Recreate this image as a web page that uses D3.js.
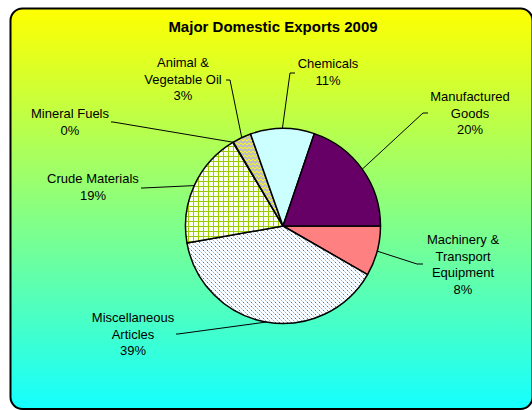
<!DOCTYPE html>
<html>
<head>
<meta charset="utf-8">
<script src="https://cdn.jsdelivr.net/npm/d3@7"></script>
<style>
  body { margin: 0; background: #fff; }
  svg { display: block; font-family: "Liberation Sans", Arial, sans-serif; }
  pattern rect { shape-rendering: crispEdges; }
</style>
</head>
<body>
<script>
// pie data, clockwise from 3 o'clock
var categories = ["Machinery & Transport Equipment", "Miscellaneous Articles", "Crude Materials",
	"Mineral Fuels", "Animal & Vegetable Oil", "Chemicals", "Manufactured Goods"];
var shares = [8.3, 38.9, 19.2, 0.1, 3.1, 10.6, 19.8];
var labelLines = [["Machinery &", "Transport", "Equipment"], ["Miscellaneous", "Articles"],
	["Crude Materials"], ["Mineral Fuels"], ["Animal &", "Vegetable Oil"], ["Chemicals"],
	["Manufactured", "Goods"]];

// label placement (layout only): text centre, first baseline, leader elbow + tick end
var labelLayout = [
	{x: 463, y: 244, elbow: [417, 264], tick: [423, 264]},
	{x: 133, y: 322, elbow: [178, 334], tick: [176, 334]},
	{x: 93,  y: 183, elbow: [143, 188], tick: [141, 188]},
	{x: 70,  y: 118, elbow: [113, 122], tick: [111, 122]},
	{x: 183, y: 67,  elbow: [230, 80],  tick: [226, 80]},
	{x: 328, y: 68,  elbow: [290, 73],  tick: [295, 73]},
	{x: 470, y: 101, elbow: [423, 113], tick: [428, 113]}
];

var W = 532, H = 410;
var cx = 283, cy = 226, R = 97.5;
var lineH = 16.5;

var svg = d3.select("body").append("svg")
	.attr("width", W)
	.attr("height", H);

var defs = svg.append("defs");

// background gradient yellow -> aqua
var grad = defs.append("linearGradient")
	.attr("id", "bg")
	.attr("x1", 0).attr("y1", 0).attr("x2", 0).attr("y2", 1);
grad.append("stop").attr("offset", "0%").attr("stop-color", "#ffff00");
grad.append("stop").attr("offset", "100%").attr("stop-color", "#14ffff");

// misc articles: blue confetti on white
var pMisc = defs.append("pattern")
	.attr("id", "pMisc").attr("patternUnits", "userSpaceOnUse")
	.attr("width", 4).attr("height", 4);
pMisc.append("rect").attr("width", 4).attr("height", 4).attr("fill", "#ffffff");
pMisc.append("rect").attr("x", 0).attr("y", 0).attr("width", 1).attr("height", 1).attr("fill", "#2f78e8");
pMisc.append("rect").attr("x", 2).attr("y", 2).attr("width", 1).attr("height", 1).attr("fill", "#8fb6f2");
pMisc.append("rect").attr("x", 1).attr("y", 1).attr("width", 1).attr("height", 1).attr("fill", "#c4d9f8");
pMisc.append("rect").attr("x", 3).attr("y", 3).attr("width", 1).attr("height", 1).attr("fill", "#c4d9f8");

// crude materials: green small grid
var pCrude = defs.append("pattern")
	.attr("id", "pCrude").attr("patternUnits", "userSpaceOnUse")
	.attr("width", 5).attr("height", 5);
pCrude.append("rect").attr("width", 5).attr("height", 5).attr("fill", "#fbfff0");
pCrude.append("rect").attr("width", 5).attr("height", 1).attr("fill", "#9acd00");
pCrude.append("rect").attr("width", 1).attr("height", 5).attr("fill", "#9acd00");

// animal & veg oil: yellow wave on grey
var pOil = defs.append("pattern")
	.attr("id", "pOil").attr("patternUnits", "userSpaceOnUse")
	.attr("width", 4).attr("height", 4);
pOil.append("rect").attr("width", 4).attr("height", 4).attr("fill", "#c0c0c0");
pOil.append("path").attr("d", "M0,3 L2,1 L4,3")
	.attr("fill", "none").attr("stroke", "#ffff00").attr("stroke-width", 1);

var fills = ["#ff8080", "url(#pMisc)", "url(#pCrude)", "#c0c0c0", "url(#pOil)", "#ccffff", "#660066"];

// chart area
svg.append("rect")
	.attr("x", 10.5).attr("y", 8.5)
	.attr("width", 522).attr("height", 400.5)
	.attr("rx", 12).attr("ry", 12)
	.attr("fill", "url(#bg)")
	.attr("stroke", "#000")
	.attr("stroke-width", 2);

svg.append("text")
	.attr("x", 273).attr("y", 32)
	.attr("text-anchor", "middle")
	.attr("font-size", 15)
	.attr("font-weight", "bold")
	.text("Major Domestic Exports 2009");

var pie = d3.pie().sort(null)
	.startAngle(Math.PI / 2)
	.endAngle(Math.PI / 2 + 2 * Math.PI);
var arcs = pie(shares);
var arc = d3.arc().innerRadius(0).outerRadius(R);

var g = svg.append("g").attr("transform", "translate(" + cx + "," + cy + ")");

g.selectAll("path.slice")
	.data(arcs)
	.enter().append("path")
	.attr("class", "slice")
	.attr("d", arc)
	.attr("fill", function(d, i) { return fills[i]; })
	.attr("stroke", "#000")
	.attr("stroke-width", function(d) { return d.value < 1 ? 0.8 : 1.5; })
	.attr("stroke-linejoin", "round");

// leader lines
var line = d3.line();
svg.selectAll("path.leader")
	.data(arcs)
	.enter().append("path")
	.attr("class", "leader")
	.attr("d", function(d, i) {
		var a = (d.startAngle + d.endAngle) / 2;
		var p = [cx + R * Math.sin(a), cy - R * Math.cos(a)];
		var L = labelLayout[i];
		return line([L.tick, L.elbow, p]);
	})
	.attr("fill", "none")
	.attr("stroke", "#000")
	.attr("stroke-width", 1);

// labels
var labels = svg.selectAll("text.lbl")
	.data(arcs)
	.enter().append("text")
	.attr("class", "lbl")
	.attr("text-anchor", "middle")
	.attr("font-size", 13)
	.attr("fill", "#000");

labels.each(function(d, i) {
	var L = labelLayout[i];
	var rows = labelLines[i].concat([Math.round(shares[i]) + "%"]);
	d3.select(this).selectAll("tspan")
		.data(rows)
		.enter().append("tspan")
		.attr("x", L.x)
		.attr("y", function(r, j) { return L.y + j * lineH; })
		.text(function(r) { return r; });
});
</script>
</body>
</html>
